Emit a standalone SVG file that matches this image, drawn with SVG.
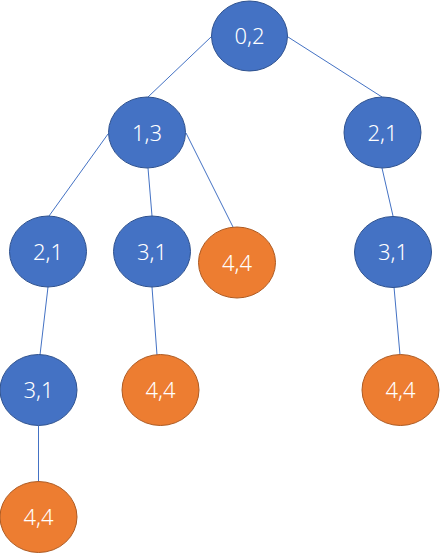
<svg xmlns="http://www.w3.org/2000/svg" width="440" height="553" viewBox="0 0 440 553">
<style>
.b{fill:#4472C4;stroke:#2F528F;stroke-width:1}
.o{fill:#ED7D31;stroke:#AE5A21;stroke-width:1}
.t{fill:#fff;font-family:"Noto Sans","Liberation Sans",sans-serif;font-weight:300;font-size:22px;text-anchor:middle}
.c line{stroke:#4472C4;stroke-width:1}
</style>
<rect width="440" height="553" fill="#fff"/>
<g class="c" id="connectors">
<line x1="211" y1="37" x2="148" y2="97"/>
<line x1="288" y1="37" x2="382" y2="97"/>
<line x1="108" y1="134" x2="49" y2="216"/>
<line x1="148" y1="168" x2="152" y2="216"/>
<line x1="186" y1="133" x2="233" y2="227"/>
<line x1="382" y1="168" x2="393" y2="216"/>
<line x1="48" y1="287" x2="40" y2="355"/>
<line x1="152" y1="287" x2="157" y2="355"/>
<line x1="394" y1="287" x2="400" y2="355"/>
<line x1="38.5" y1="426" x2="38.5" y2="482"/>
</g>
<g id="n02"><ellipse class="b" cx="249.5" cy="36" rx="38" ry="35"/><text class="t" x="249.5" y="44">0,2</text></g>
<g id="n13"><ellipse class="b" cx="147" cy="132.5" rx="38.5" ry="35.5"/><text class="t" x="147" y="140.5">1,3</text></g>
<g id="n21r"><ellipse class="b" cx="382.5" cy="132.5" rx="38.5" ry="35.5"/><text class="t" x="382.5" y="140.5">2,1</text></g>
<g id="n21l"><ellipse class="b" cx="48" cy="251.5" rx="38.5" ry="35.5"/><text class="t" x="48" y="259.5">2,1</text></g>
<g id="n31m"><ellipse class="b" cx="152" cy="251.5" rx="38.5" ry="35.5"/><text class="t" x="152" y="259.5">3,1</text></g>
<g id="n44a"><ellipse class="o" cx="237" cy="262.5" rx="38.5" ry="35.5"/><text class="t" x="237" y="270.5">4,4</text></g>
<g id="n31r"><ellipse class="b" cx="393" cy="252" rx="38.5" ry="35.5"/><text class="t" x="393" y="260">3,1</text></g>
<g id="n31l"><ellipse class="b" cx="38.5" cy="390" rx="38.5" ry="35.5"/><text class="t" x="38.5" y="398">3,1</text></g>
<g id="n44m"><ellipse class="o" cx="160.5" cy="390" rx="38.5" ry="35.5"/><text class="t" x="160.5" y="398">4,4</text></g>
<g id="n44r"><ellipse class="o" cx="400.5" cy="390" rx="38.5" ry="35.5"/><text class="t" x="400.5" y="398">4,4</text></g>
<g id="n44b"><ellipse class="o" cx="38.5" cy="517" rx="38.5" ry="35.5"/><text class="t" x="38.5" y="525">4,4</text></g>
</svg>
